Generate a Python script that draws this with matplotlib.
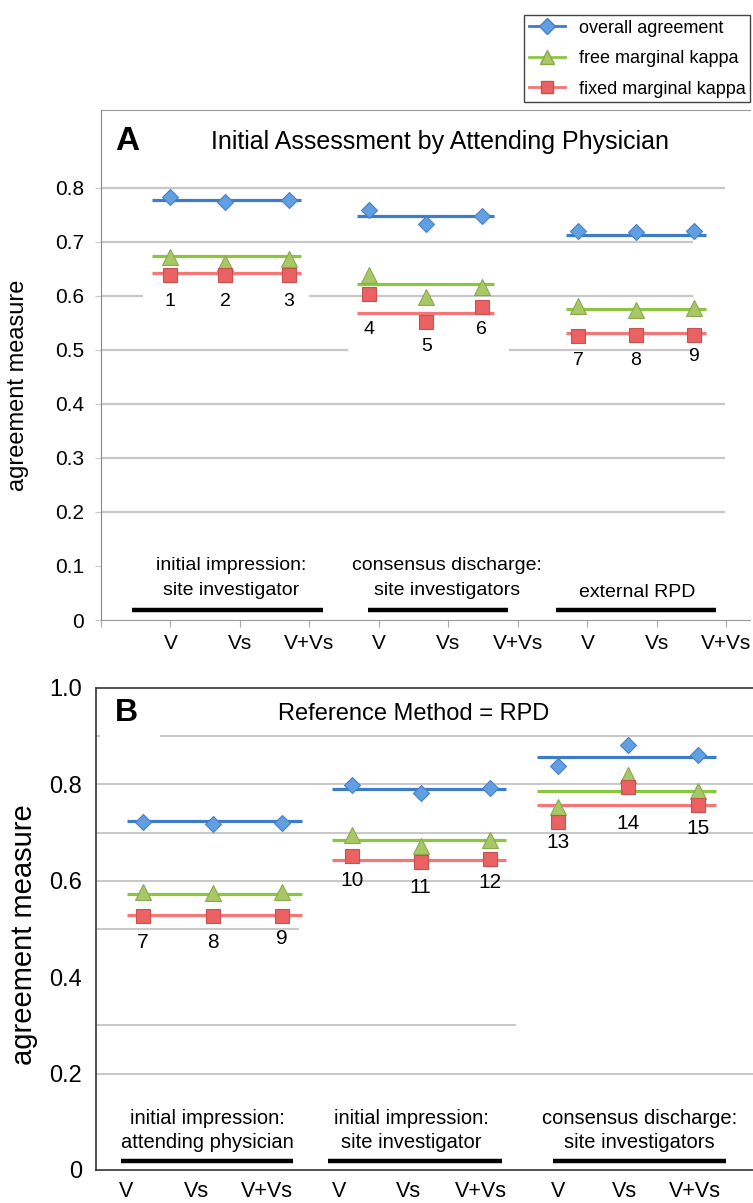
import matplotlib.pyplot as plt
from matplotlib.lines import Line2D

plt.rcParams['font.family'] = ['Liberation Sans', 'DejaVu Sans']

# ---- data ----
x_labels = ["V", "Vs", "V+Vs"] * 3

a_overall = [0.783, 0.774, 0.778, 0.759, 0.733, 0.748, 0.720, 0.719, 0.720]
a_free = [0.672, 0.660, 0.669, 0.638, 0.598, 0.617, 0.581, 0.574, 0.577]
a_fixed = [0.638, 0.638, 0.638, 0.604, 0.552, 0.580, 0.526, 0.527, 0.527]
a_overall_mean = [0.777, 0.748, 0.712]
a_free_mean = [0.673, 0.622, 0.575]
a_fixed_mean = [0.643, 0.568, 0.531]
a_numbers = ["1", "2", "3", "4", "5", "6", "7", "8", "9"]
a_groups = [("initial impression:", "site investigator"),
            ("consensus discharge:", "site investigators"),
            ("", "external RPD")]

b_overall = [0.723, 0.718, 0.720, 0.799, 0.782, 0.792, 0.838, 0.882, 0.862]
b_free = [0.577, 0.574, 0.576, 0.694, 0.672, 0.685, 0.753, 0.819, 0.787]
b_fixed = [0.526, 0.526, 0.528, 0.652, 0.638, 0.646, 0.723, 0.794, 0.758]
b_overall_mean = [0.724, 0.790, 0.857]
b_free_mean = [0.572, 0.685, 0.786]
b_fixed_mean = [0.529, 0.644, 0.757]
b_numbers = ["7", "8", "9", "10", "11", "12", "13", "14", "15"]
b_groups = [("initial impression:", "attending physician"),
            ("initial impression:", "site investigator"),
            ("consensus discharge:", "site investigators")]

# ---- layout ----
a_ticks = [1, 2, 3, 4, 5, 6, 7, 8, 9]
a_pts = [0.99, 1.79, 2.70, 3.85, 4.68, 5.48, 6.87, 7.70, 8.53]
a_mean_span = [(0.73, 2.88), (3.68, 5.66), (6.69, 8.70)]
a_bar_span = [(0.45, 3.19), (3.84, 5.86), (6.55, 8.85)]
a_num_y = [0.59, 0.59, 0.59, 0.537, 0.506, 0.537, 0.481, 0.481, 0.487]
a_group_x = [1.87, 4.98, 7.71]

b_ticks = [0.43, 1.44, 2.44, 3.47, 4.46, 5.50, 6.60, 7.56, 8.56]
b_pts = [0.67, 1.67, 2.66, 3.66, 4.64, 5.63, 6.61, 7.61, 8.61]
b_mean_span = [(0.44, 2.94), (3.37, 5.86), (6.31, 8.86)]
b_bar_span = [(0.36, 2.81), (3.31, 5.80), (6.53, 9.01)]
b_num_y = [0.471, 0.471, 0.481, 0.601, 0.586, 0.596, 0.679, 0.718, 0.708]
b_group_x = [1.59, 4.51, 7.77]

blue = dict(line='#3d7cc9', face='#5f9fe2', edge='#4a80c4', marker='D', ms=8.5)
green = dict(line='#8cc63f', face='#a8c866', edge='#8aa84e', marker='^', ms=11)
red = dict(line='#f47676', face='#ea6262', edge='#c85050', marker='s', ms=10)

fig = plt.figure(figsize=(7.53, 12.03), dpi=100)
axA = fig.add_axes([101 / 753, 1 - 620 / 1203, 649 / 753, 510 / 1203])
axB = fig.add_axes([96 / 753, 1 - 1170 / 1203, 657 / 753, 482 / 1203])


def draw_series(ax, xs, vals, means, spans, st):
    for m, (x0, x1) in zip(means, spans):
        ax.hlines(m, x0, x1, color=st['line'], lw=2.3, zorder=3)
    ax.plot(xs, vals, ls='none', marker=st['marker'], ms=st['ms'],
            mfc=st['face'], mec=st['edge'], mew=0.8, zorder=4)


# ---- panel A ----
axA.set_xlim(0, 9.34)
axA.set_ylim(0, 0.944)
for y, segs in [(0.8, [(0, 8.98)]), (0.7, [(0, 8.52)]),
                (0.6, [(0, 0.6), (3.0, 8.52)]),
                (0.5, [(0, 3.55), (5.87, 8.52)]),
                (0.4, [(0, 8.98)]), (0.3, [(0, 8.98)]), (0.2, [(0, 8.98)])]:
    for x0, x1 in segs:
        axA.hlines(y, x0, x1, color='#c8c8c8', lw=1.6, zorder=1)

draw_series(axA, a_pts, a_overall, a_overall_mean, a_mean_span, blue)
draw_series(axA, a_pts, a_free, a_free_mean, a_mean_span, green)
draw_series(axA, a_pts, a_fixed, a_fixed_mean, a_mean_span, red)

for x, y, t in zip(a_pts, a_num_y, a_numbers):
    axA.text(x, y, t, ha='center', va='center', fontsize=14)
for (x0, x1) in a_bar_span:
    axA.hlines(0.019, x0, x1, color='black', lw=3.2, zorder=3)
for gx, (l1, l2) in zip(a_group_x, a_groups):
    axA.text(gx, 0.092, l1, ha='center', va='baseline', fontsize=14)
    axA.text(gx, 0.047 if l1 else 0.043, l2, ha='center', va='baseline', fontsize=14)

axA.text(0.38, 0.885, "A", fontsize=24, fontweight='bold', ha='center', va='center')
axA.text(4.88, 0.885, "Initial Assessment by Attending Physician",
         fontsize=18, ha='center', va='center')

axA.set_yticks([0, 0.1, 0.2, 0.3, 0.4, 0.5, 0.6, 0.7, 0.8])
axA.set_yticklabels(["0", "0.1", "0.2", "0.3", "0.4", "0.5", "0.6", "0.7", "0.8"],
                    fontsize=15)
axA.set_xticks([0] + a_ticks)
axA.set_xticklabels([""] + x_labels, fontsize=15)
axA.tick_params(axis='y', length=4, color='#c8c8c8', pad=8)
axA.tick_params(axis='x', length=5, color='#aaaaaa', pad=5)
axA.spines['right'].set_visible(False)
axA.spines['top'].set_color('#999999')
axA.spines['left'].set_color('#888888')
axA.spines['bottom'].set_color('#999999')
fig.text(18 / 753, 1 - 385 / 1203, "agreement measure", fontsize=17,
         rotation=90, ha='center', va='center')

# ---- panel B ----
axB.set_xlim(0, 9.39)
axB.set_ylim(0, 1.0)
for y, segs in [(0.9, [(0, 0.06), (0.92, 9.39)]), (0.8, [(0, 9.39)]),
                (0.7, [(0, 9.39)]), (0.6, [(0, 9.39)]),
                (0.5, [(0, 2.9)]), (0.3, [(0, 6.0)]), (0.2, [(0, 9.39)])]:
    for x0, x1 in segs:
        axB.hlines(y, x0, x1, color='#c8c8c8', lw=1.4, zorder=1)

draw_series(axB, b_pts, b_overall, b_overall_mean, b_mean_span, blue)
draw_series(axB, b_pts, b_free, b_free_mean, b_mean_span, green)
draw_series(axB, b_pts, b_fixed, b_fixed_mean, b_mean_span, red)

for x, y, t in zip(b_pts, b_num_y, b_numbers):
    axB.text(x, y, t, ha='center', va='center', fontsize=15)
for (x0, x1), gx, (l1, l2) in zip(b_bar_span, b_group_x, b_groups):
    axB.hlines(0.019, x0, x1, color='black', lw=3.2, zorder=3)
    axB.text(gx, 0.095, l1, ha='center', va='baseline', fontsize=14.5)
    axB.text(gx, 0.045, l2, ha='center', va='baseline', fontsize=14.5)

axB.text(0.44, 0.948, "B", fontsize=23, fontweight='bold', ha='center', va='center')
axB.text(4.54, 0.947, "Reference Method = RPD", fontsize=17,
         ha='center', va='center')

axB.set_yticks([0, 0.2, 0.4, 0.6, 0.8, 1.0])
axB.set_yticklabels(["0", "0.2", "0.4", "0.6", "0.8", "1.0"], fontsize=17)
axB.set_xticks(b_ticks)
axB.set_xticklabels(x_labels, fontsize=15.5)
axB.tick_params(axis='y', length=0, pad=10)
axB.tick_params(axis='x', length=0, pad=8)
axB.spines['right'].set_visible(False)
for s in ['top', 'left', 'bottom']:
    axB.spines[s].set_color('#333333')
    axB.spines[s].set_linewidth(1.2)
fig.text(24 / 753, 1 - 935 / 1203, "agreement measure", fontsize=21,
         rotation=90, ha='center', va='center')

# ---- legend ----
handles = [Line2D([], [], color=st['line'], lw=2, marker=st['marker'],
                  ms=st['ms'] * 0.9, mfc=st['face'], mec=st['edge'])
           for st in (blue, green, red)]
fig.legend(handles, ["overall agreement", "free marginal kappa", "fixed marginal kappa"],
           loc='upper left', bbox_to_anchor=(524 / 753, 1 - 15 / 1203),
           borderaxespad=0, fontsize=13, fancybox=False, edgecolor='#444444',
           framealpha=1, handlelength=2.0, labelspacing=0.75, borderpad=0.25)

fig.savefig("out.png", dpi=100)
